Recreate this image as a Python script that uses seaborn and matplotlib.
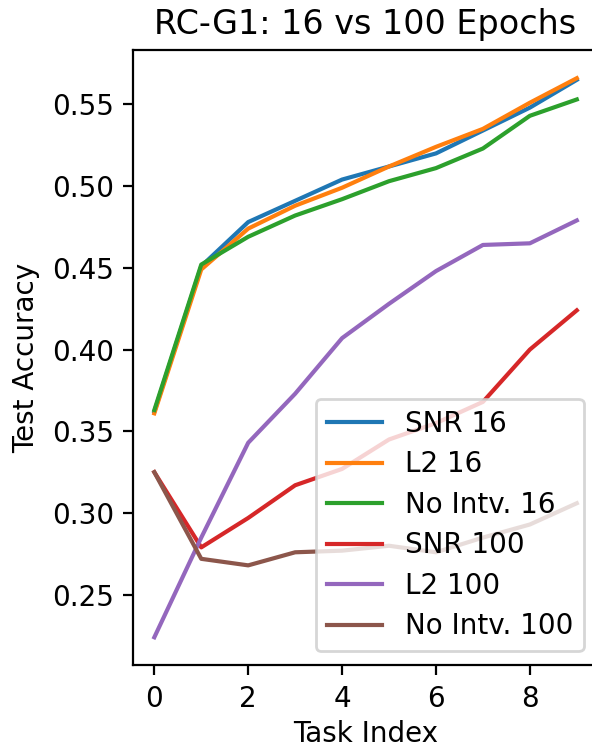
import matplotlib
matplotlib.use("Agg")
import matplotlib.pyplot as plt
import numpy as np
import pandas as pd
import seaborn as sns

# Test accuracy per task
tasks = list(range(10))
snr_16 = [0.362, 0.451, 0.478, 0.491, 0.504, 0.512, 0.520, 0.534, 0.548, 0.565]
l2_16 = [0.361, 0.449, 0.474, 0.488, 0.499, 0.512, 0.524, 0.535, 0.551, 0.566]
none_16 = [0.363, 0.452, 0.469, 0.482, 0.492, 0.503, 0.511, 0.523, 0.543, 0.553]
snr_100 = [0.325, 0.279, 0.297, 0.317, 0.327, 0.345, 0.355, 0.368, 0.400, 0.424]
l2_100 = [0.224, 0.285, 0.343, 0.373, 0.407, 0.428, 0.448, 0.464, 0.465, 0.479]
none_100 = [0.325, 0.272, 0.268, 0.276, 0.277, 0.280, 0.276, 0.285, 0.293, 0.306]

labels = ["SNR 16", "L2 16", "No Intv. 16", "SNR 100", "L2 100", "No Intv. 100"]
series = [snr_16, l2_16, none_16, snr_100, l2_100, none_100]

df = pd.DataFrame({
    "Task Index": tasks * len(labels),
    "Test Accuracy": np.concatenate(series),
    "Method": np.repeat(labels, len(tasks)),
})

fig, ax = plt.subplots(figsize=(2.96, 3.75), dpi=200)
sns.lineplot(data=df, x="Task Index", y="Test Accuracy", hue="Method",
             hue_order=labels, palette="tab10", linewidth=1.5, ax=ax)

ax.set_title("RC-G1: 16 vs 100 Epochs")
ax.set_xticks([0, 2, 4, 6, 8])
ax.xaxis.labelpad = 2.5
ax.legend(loc="lower right", title=None, labelspacing=0.45)

# the reference is cropped so the right spine falls just outside the image
plt.subplots_adjust(left=0.225, right=1.01, top=0.933, bottom=0.113)
plt.savefig("out.png", dpi=200)
